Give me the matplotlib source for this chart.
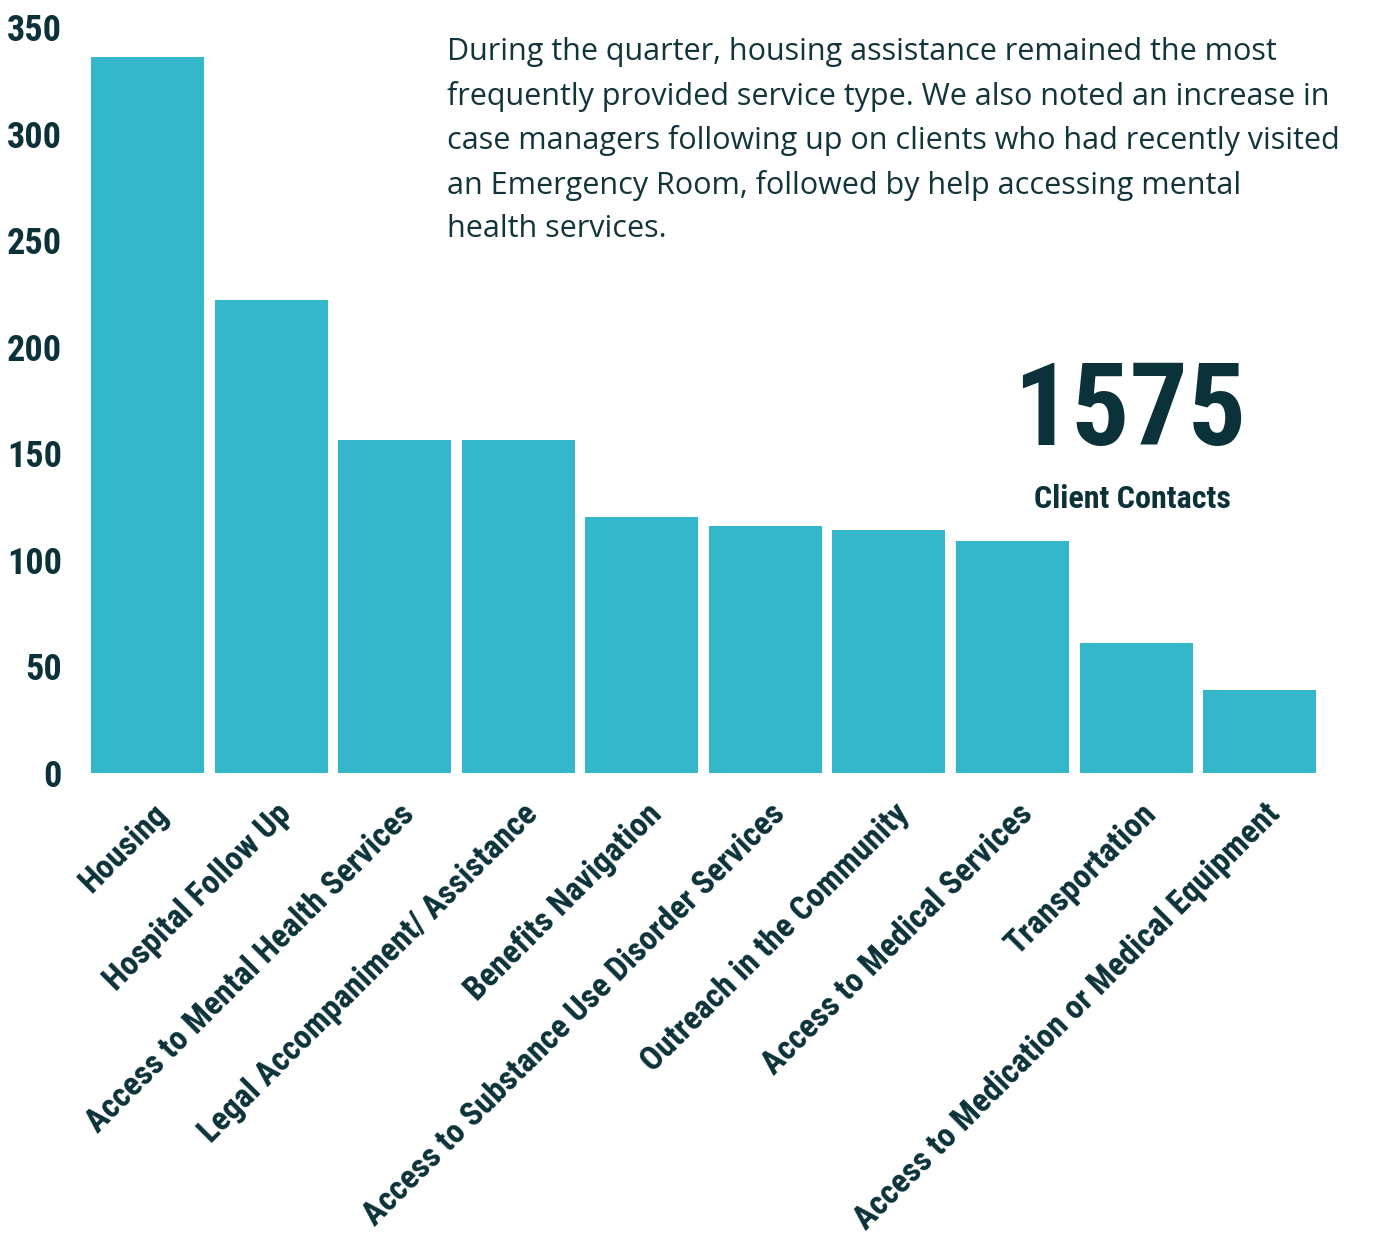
import matplotlib.pyplot as plt
import matplotlib.transforms as mtransforms
from matplotlib import font_manager

# service types and client contact counts
categories = [
    "Housing",
    "Hospital Follow Up",
    "Access to Mental Health Services",
    "Legal Accompaniment/ Assistance",
    "Benefits Navigation",
    "Access to Substance Use Disorder Services",
    "Outreach in the Community",
    "Access to Medical Services",
    "Transportation",
    "Access to Medication or Medical Equipment",
]
counts = [336, 222, 156, 156, 120, 116, 114, 109, 61, 39]
yticks = [0, 50, 100, 150, 200, 250, 300, 350]
total_contacts = "1575"

BAR = "#35B7CA"
INK = "#0B3139"

fonts = font_manager.fontManager.ttflist
names = {f.name for f in fonts}


def pick(*cands):
    for c in cands:
        if c in names:
            return c
    return "DejaVu Sans"


narrow = pick("Roboto Condensed", "IBM Plex Sans Condensed", "Open Sans Condensed")
body = pick("Open Sans")

fig = plt.figure(figsize=(13.87, 12.34), dpi=100)
ax = fig.add_axes([0.0618, 0.3736, 0.8909, 0.6045])

x = list(range(len(categories)))
ax.bar(x, counts, width=0.915, color=BAR, linewidth=0)

ax.set_xlim(-0.5, len(categories) - 0.5)
ax.set_ylim(0, 350)
ax.set_yticks(yticks)
ax.set_yticklabels([str(v) for v in yticks], fontsize=26, fontweight="bold",
                   family=narrow, color=INK)
ax.set_xticks(x)
ax.set_xticklabels(categories, rotation=45, ha="right", rotation_mode="anchor",
                   fontsize=24, fontweight="bold", family=narrow, color=INK)
ax.tick_params(axis="both", length=0)
ax.tick_params(axis="y", pad=17)
ax.tick_params(axis="x", pad=18)
shift = mtransforms.ScaledTranslation(0.04, 0, fig.dpi_scale_trans)
for lbl in ax.get_xticklabels():
    lbl.set_transform(lbl.get_transform() + shift)
for s in ax.spines.values():
    s.set_visible(False)

para = ("During the quarter, housing assistance remained the most\n"
        "frequently provided service type. We also noted an increase in\n"
        "case managers following up on clients who had recently visited\n"
        "an Emergency Room, followed by help accessing mental\n"
        "health services.")
fig.text(447 / 1387, 1 - 37 / 1234, para, ha="left", va="top", fontsize=22,
         fontweight="medium", family=body, color="#12343B", linespacing=1.57)

fig.text(1130 / 1387, 1 - 414 / 1234, total_contacts, ha="center", va="center",
         fontsize=83, fontweight="bold", family=narrow, color=INK)
fig.text(1132 / 1387, 1 - 499 / 1234, "Client Contacts", ha="center", va="center",
         fontsize=23, fontweight="bold", family=narrow, color=INK)

fig.savefig("out.png", dpi=100, facecolor="white")
